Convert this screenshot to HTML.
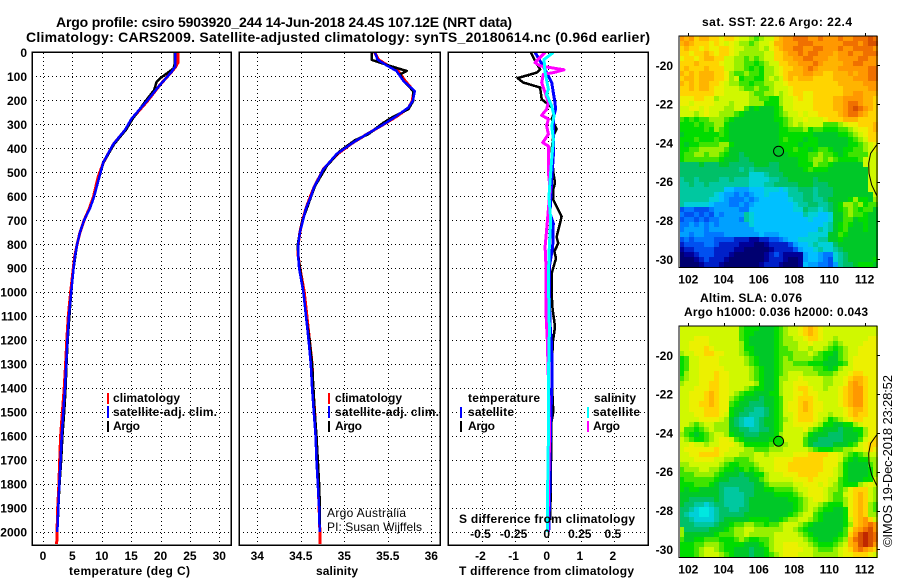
<!DOCTYPE html>
<html>
<head>
<meta charset="utf-8">
<title>Argo profile</title>
<style>
html,body{margin:0;padding:0;background:#fff}
svg{display:block}
text{font-family:"Liberation Sans",sans-serif;font-size:12px;font-weight:bold;fill:#000}
.title{font-size:14px}
.reg{font-weight:normal}
</style>
</head>
<body>
<svg id="chart" xmlns="http://www.w3.org/2000/svg" width="900" height="580" viewBox="0 0 900 580">
<g id="maps"></g>
<g id="panels"></g>
<g id="labels"></g>

<text class="title" x="56" y="27" textLength="456">Argo profile: csiro 5903920_244 14-Jun-2018 24.4S 107.12E (NRT data)</text>
<text class="title" x="26" y="42" textLength="624">Climatology: CARS2009. Satellite-adjusted climatology: synTS_20180614.nc (0.96d earlier)</text>

<text x="69" y="575" textLength="121">temperature (deg C)</text>
<text x="316" y="575" textLength="42">salinity</text>
<text x="459" y="575" textLength="175">T difference from climatology</text>
<text x="459" y="523" textLength="176">S difference from climatology</text>

<g>
<rect x="107" y="393" width="2" height="11" fill="#ff0000"/>
<rect x="107" y="406" width="2" height="12" fill="#0000ff"/>
<rect x="107" y="421" width="2" height="11" fill="#000"/>
<text x="113" y="402" textLength="67">climatology</text>
<text x="113" y="416" textLength="104">satellite-adj. clim.</text>
<text x="113" y="430" textLength="27">Argo</text>
</g>
<g>
<rect x="328" y="393" width="2" height="11" fill="#ff0000"/>
<rect x="328" y="406" width="2" height="12" fill="#0000ff"/>
<rect x="328" y="421" width="2" height="11" fill="#000"/>
<text x="335" y="402" textLength="67">climatology</text>
<text x="335" y="416" textLength="104">satellite-adj. clim.</text>
<text x="335" y="430" textLength="27">Argo</text>
</g>
<g>
<text x="468" y="402" textLength="72">temperature</text>
<rect x="460" y="407" width="2" height="11" fill="#0000ff"/>
<text x="468" y="416" textLength="46">satellite</text>
<rect x="460" y="421" width="2" height="11" fill="#000"/>
<text x="468" y="430" textLength="27">Argo</text>
<text x="594" y="402" textLength="42">salinity</text>
<rect x="587" y="407" width="2" height="11" fill="#00ffff"/>
<text x="593" y="416" textLength="47">satellite</text>
<rect x="587" y="421" width="2" height="11" fill="#ff00ff"/>
<text x="593" y="430" textLength="27">Argo</text>
</g>

<text class="reg" x="327" y="517" textLength="79">Argo Australia</text>
<text class="reg" x="327" y="531" textLength="95">PI: Susan Wijffels</text>

<text x="702" y="26" textLength="150">sat. SST: 22.6 Argo: 22.4</text>
<text x="700" y="302" textLength="102">Altim. SLA: 0.076</text>
<text x="684" y="316" textLength="184">Argo h1000: 0.036 h2000: 0.043</text>
<text class="reg" transform="translate(892,547) rotate(-90)" x="0" y="0" textLength="172" style="font-size:13px">©IMOS 19-Dec-2018 23:28:52</text>
</svg>

<script>
// ---------- axis ticks ----------
const depthTicks = [0,100,200,300,400,500,600,700,800,900,1000,1100,1200,1300,1400,1500,1600,1700,1800,1900,2000];
const tempTicks = [0,5,10,15,20,25,30];
const salinityTicks = [34,34.5,35,35.5,36];
const tDiffTicks = [-2,-1,0,1,2];
const sDiffTicks = [-0.5,-0.25,0,0.25,0.5];
const sDiffTickLabels = ["-0.5","-0.25","0","0.25","0.5"];
const lonTicks = [102,104,106,108,110,112];
const latTicks = [-20,-22,-24,-26,-28,-30];

// ---------- temperature profile ----------
const climTempDepth = [0,40,59,80,135,205,275,323,382,458,518,601,650,700,750,800,850,900,1000,1100,1200,1300,1400,1500,1600,1700,1800,1900,2000,2050];
const climTemp = [23,23,22.6,21.9,19.9,17.7,15.2,14.0,12.0,10.3,9.4,8.6,7.9,7.0,6.3,5.8,5.4,5.15,4.7,4.3,4.05,3.85,3.6,3.3,3.0,2.85,2.7,2.5,2.38,2.33];
const argoTempDepth = [0,50,67,108,122,157,198,275,323,382,458,518,601,650,700,750,800,850,900,1000,1100,1200,1300,1400,1500,1600,1700,1800,1900,1980];
const argoTemp = [22.4,22.4,22.18,19.9,19.35,18.9,17.6,15.3,14.1,12.1,10.3,9.6,8.7,8.0,7.0,6.3,5.8,5.5,5.2,4.8,4.5,4.2,4.0,3.85,3.6,3.3,3.1,2.8,2.6,2.5];
const satTempDepth = [0,40,59,80,135,205,275,323,382,458,518,601,650,700,750,800,850,900,1000,1100,1200,1300,1400,1500,1600,1700,1800,1900,2000];
const satTemp = [22.5,22.5,22.5,21.9,19.9,17.6,15.1,13.95,11.97,10.26,9.6,8.7,8.0,7.0,6.3,5.8,5.45,5.2,4.8,4.4,4.15,3.95,3.75,3.46,3.18,3.0,2.78,2.6,2.44];

// ---------- salinity profile ----------
const climSalDepth = [0,29,54,77,119,161,202,230,265,300,341,376,424,487,564,600,650,700,750,800,850,900,1000,1100,1200,1300,1400,1500,1600,1700,1800,1900,2000,2050];
const climSal = [35.35,35.39,35.5,35.62,35.7,35.8,35.78,35.74,35.61,35.45,35.26,35.1,34.92,34.76,34.65,34.61,34.56,34.52,34.49,34.47,34.47,34.49,34.54,34.57,34.6,34.63,34.64,34.66,34.675,34.685,34.7,34.71,34.72,34.72];
const argoSalDepth = [0,31,42,56,77,91,119,161,202,237,268,293,341,366,411,473,557,600,650,700,750,800,850,900,1000,1100,1200,1300,1400,1500,1600,1700,1800,1900,1990];
const argoSal = [35.315,35.315,35.41,35.525,35.717,35.64,35.68,35.793,35.793,35.736,35.563,35.45,35.276,35.123,34.95,34.8,34.663,34.62,34.57,34.52,34.49,34.465,34.47,34.49,34.53,34.56,34.6,34.63,34.645,34.66,34.68,34.695,34.71,34.72,34.72];
const satSalDepth = [0,29,54,77,119,161,202,230,265,300,341,376,424,487,564,600,650,700,750,800,850,900,1000,1100,1200,1300,1400,1500,1600,1700,1800,1900,2000];
const satSal = [35.353,35.38,35.487,35.6,35.68,35.81,35.786,35.736,35.6,35.45,35.257,35.1,34.91,34.76,34.65,34.617,34.56,34.525,34.49,34.47,34.47,34.48,34.53,34.56,34.59,34.615,34.63,34.65,34.67,34.68,34.695,34.71,34.717];

// ---------- difference from climatology ----------
const tArgoDiffDepth = [0,35,70,84,107,125,146,195,223,243,278,320,348,404,501,543,571,615,650,685,741,770,796,830,859,921,1005,1060,1144,1213,1366,1500,1550,1700,1950];
const tArgoDiff = [-0.51,-0.38,-0.23,-0.33,-0.91,-0.74,-0.23,-0.18,0.07,0.22,0.12,0.27,0.17,0.12,0.17,0.22,0.17,0.17,0.3,0.42,0.32,0.27,0.32,0.2,0.25,0.12,0.12,0.14,0.22,0.15,0.12,0.17,0.1,0.1,0.08];
const tSatDiffDepth = [0,35,84,125,167,209,237,272,334,432,530,671,713,810,893,1005,1130,1227,1366,1600,1800,2000];
const tSatDiff = [-0.38,-0.23,-0.03,0.12,0.17,0.22,0.24,0.17,0.17,0.17,0.12,0.07,0.17,0.15,0.05,0.05,0.07,0.12,0.13,0.08,0.07,0.03];
const sArgoDiffDepth = [0,42,56,72,84,91,125,167,209,237,262,278,306,341,376,390,501,571,741,810,893,1088,1199,1366,1600,1800,2000];
const sArgoDiff = [-0.02,-0.096,-0.058,0.123,0.043,-0.033,-0.045,-0.02,0.005,-0.008,-0.045,0.005,-0.008,0.005,-0.038,0.005,0.005,0.018,-0.008,-0.02,-0.013,-0.013,-0.003,0.005,0.015,0.005,0.003];
const sSatDiffDepth = [0,29,84,153,174,223,265,306,362,445,532,601,699,838,949,1157,1366,1600,1800,2000];
const sSatDiff = [0.043,-0.028,-0.02,0.005,-0.008,0.03,0.048,0.03,0.043,0.03,0.018,0.01,0.023,0.01,0.005,0.013,0.005,0.005,0,0];

// ---------- maps (each letter is a colour level, see levelColours) ----------
const levelKeys = "abcdefghijklmnopqrstuvw";
const levelColours = ["#000070","#000098","#0020c8","#0050f0","#0078ff","#00a0ff","#00c0ff","#00d0d8","#00c8a0","#00c068","#00c828","#00dc00","#40e400","#98f000","#d0f800","#ecf000","#ffd400","#ffb400","#ff9800","#f07000","#d85000","#c02800","#00e8e0"];
const sstRows = [
"srsqrrqqpq qpoonmnooq rsstttssts sstsstttut",
"rsrqqqpqpo ponnmnoopr rssstttsss ssstttstuu",
"qrqqpqppqq poonnnonpq rssttsstts sstsstttts",
"qqpqqrqpqq ponnnnnooq qrsststtss srsstssttt",
"pqqpqrrqqo onnmnmnooq qrrssttsss rrssssttss",
"qqqrqqqqpo onnmmlmnoo qqrrssstsr rrrssttsss",
"qrqqqrqqqo onnmlmlnno pqqrrstsrr rrsssssstt",
"rqrqrrrqqp nmmnmmlnno pqrrrssrrq qrrrsrsstt",
"qrrqrrrqqp nolmmllnon oqrqrrrqqq qrrrrssstt",
"rqrqrrqqpo nnmmlmmnno opqqqqqqqq qqrrrrrsss",
"qqrqrrqppo oonmmnmmno oopqqqqqqq qqqrrrrrss",
"qqqqqqqppo oooonmmnno nopqqppqqq qqqrrssrrr",
"pppqqppnoo oooonnmmll noopqppqqq qrrssssrrq",
"ppoppppooo nooonnnlll nooppppqqq qrrsttsrrq",
"ooppopooon noomklkkkl mooppppqqq qrrstutsrq",
"ooonopoonn nmlkkkkkkl mnoopoppqq qqrsttsrqq",
"mlmlmmnnnm lkkkkkkkkl lmnoopooop qqqrrrqqqq",
"lllmlmmnnl kkkkkkkkkk lmnonoooom mmnoppqqqr",
"lllllmlnml kkkkkkkkkk llmmmnlmml llmmnoppqr",
"klllllllml kkkkkkkkkk lllllllkkk kkllmnopqq",
"lllmlllmll kkkkkkkkkk lmlllkllkk kkkklmnoqq",
"lkllmmmmnn lkkkkkkkkk llllklllkk kkkkllmnop",
"llmmnnnnnm kkkkkkkkkk kllmllklmm lkkllmmnop",
"lmmnnmnnml kkjkkkkkkk kkllllmmnm mlklmmmmoo",
"lmmmmmmmlk kkjjkkkkkk kkkkllmnnm nmllllmooo",
"jjjjkjjjkk jjjjjkkkjj kkkklllnmm lkkkkkkooo",
"jjjjjjjjjj jjijijjjjj kkkkklmlll kkkkkkkkoo",
"jjjjjjjjjj jjjjhhhijj jkkkkkkkkk kkkkkkkkoo",
"ijjijjjjii jiiihhhhii jjkkkkkjkk kkkkkkkkoo",
"iijiijiiii iiiihhhiij jjjjkkkjjj kkkkkkkkoo",
"iiiiiiiiig gfffggghhh ghiijjjijj jkkkkkkkoo",
"iiiiiiihgf fefefgghgg ggiiijjijj jkkkkkkkko",
"iiiiiihhgf eeefefgggg gghiijjiij kkkklnllkn",
"ihhhhhgfff eefefggggg ggghiijjii jklnnmnlmm",
"deedddefff ffeegggggg ggghhjiihi jklmnmlmmk",
"eddededfef fffihggggg gggggihhgg hkkmnmmlkk",
"deededeeff ffeihggggg gggggghggg hkkmmkllkk",
"eefefefeff ffffhggggg gggggggggh iklmlkklkk",
"effffeffff fffffggggg ggggggggih iklmkkklkk",
"ffeffeeeef ffffffgfff gggggghhhh kkmlkkkkkk",
"dedeeeeddd dcccbbccdd efgghhhhii kklkkkkkkk",
"cddddeedcc ccbbbaabcc ccdfgghihh hjkkkkkkkk",
"bccddddccc cbbaaaaabc cccdfgghih hijkkkkkkk",
"abbcdddccc baaaaaabcd cbbbbfggfe ehijkkkkkk",
"aaabcdcccb aaaaaaabcc cbaabfggfe dhijkkkkkl",
"aaaabcccba aaaaaabccc baaabgffee dfijjklllk"
];
const slaRows = [
"oooooooooo oomlllkkkl mnoopqrqpo oooooooooo",
"oooooooooo oomllkkkkl mnoopqrqpo oooooooooo",
"ooopppoooo oomlkkkkkl mnnoopqqpo onoooooopp",
"ooppppoooo oonlkkkkkl mnnnoopooo nmnooooppp",
"oopppqpooo oonllkkkkl mmnnoonoon mlmnoopppp",
"nooppqqppo oonmlkkkkl mmmnnnonml lkmnoopppp",
"lmooppppoo ooonmlkkkl mnmnnnnmml kkmnoppppp",
"lmooppppoo ooonmlkkkl mnnmmmlllk kklmoppppp",
"lmoopppppo oooonmlkkl mnnnnnnmml klnooppppp",
"lnoopppqpp oooonmlkkl mnooonnnmm mnoopqqppp",
"mnoopppqpp oooonmlkkl nnoopoooon noopqrrqpp",
"noooppqqpp ooooonlkkl noopppooon nooprsrqpp",
"ooopppqqpp ooonmllkkl noopqqpoon oopqrssqpp",
"oopppqrqpp onmllkkkll nooppqppoo oopqrssqpp",
"oopppqrqpp nmlkkkjkkl moopqqqpoo oopqrssqpp",
"ooppqqrqpp mlkkjjjkkl moppqrqppo oopqrssqpp",
"oopppqqqpp lkkjjiijkl moppqrqppo ooopqrrqpp",
"oooppqqqpo lkjjiiijkl moopqqqpoo noopqrqqpp",
"ooooppppon kjihhijkkl mnopqqqpon lmnopqqppp",
"oonmnoonnn kjihhijkkl moopppponl lkkllnoppp",
"ommlmnonnn kkjjiijjkl moooopnmlk kkjkkllnpp",
"nmlklmnoon lkkjjjkkkl noooonlkkk jjjkkklnpp",
"onmllmnopp omlkkkkklm noooomkkjj jjjkkkmopq",
"oopoonoopp ponlllllmn nnooomkjjj jkkklmopqq",
"oppppppqpp ooonnmmmnn nooooonmll lmmnnoopqp",
"ooppqqqqpo oonnnoonoo ooopppqqqq pponmlmnoo",
"oooppppoon nmmmnoooop pppqqqqqqp ppomlkllnn",
"nnoooooonm llmmmnooop ppqqqqqqqp ppnlkkkkmn",
"mnnnoonnml lklmlmnoop ppqqqqqqqp ponlkkkkln",
"mmmnnnnmlk kkjkkllnoo opppqqqqpp ponlkkkkln",
"lmmmmmmlkk jjjjkkmnoo ooopppqppp oomlkkkllo",
"lllmmmlkjj jjjjjkkmnn nnnoopppop onmlllnopo",
"lkllkkkkji iijjjkkllm mmmnoopppo nnmnpqqqon",
"kkkkkkkkji iiijjkkkkl lllmnopppo nmmopqrqon",
"kkjjjjjkji iiijkkkkkk kkllmnoppo nmmnpqrqon",
"kjjiihijji iiijkkkkkk kkklmnoonm lllnpqrqnm",
"jjihwwhijj iijjkkkkkk kkklmnonml lkklpqrqnm",
"jihhwwhijj jjjkkkkkkk kklmnoomlk kkklpqrqnn",
"jjihhhhijk kkkkllllkk lmnnoonmlk kkkloqrsqo",
"jjjiiiijkk lmmnnmmlmm nooonmlkkk kkklnqrsts",
"njjjjjkkkl mnnoonnnnn noonmlkkkk kkkmprstus",
"nkkkkkklmm mnnonnnnno oooonmlkkk kklmqsuvut",
"mkkllmmmll lmnmllmmno ooooonmlkk klmnrtuvut",
"lllmmnnnml lllkkklmno opppoonmll lmnorsuvus",
"lllmnoonml lkkkjkklno oppppoonmm mnopqstsrq",
"lllmnooonm lkkkjkklmn opppooonnn nnoppqqqpo"
];
const coastLon = [112.72,112.34,112.23,112.25,112.4,112.72];
const coastLat = [-24.06,-24.54,-25.05,-25.57,-26.17,-26.77];
const floatLon = 107.12;
const floatLat = -24.43;

// ---------- scales ----------
const NS = "http://www.w3.org/2000/svg";
const yDepth = d => 52.5 + d * 0.2397;
const xTemp = v => 43 + v * 5.877;
const xSal = v => 257.3 + (v - 34) * 87;
const xTDiff = v => 547.7 + v * 33.1;
const xSDiff = v => 547.7 + v * 132.4;
const mapLeft = 679.5, mapW = 198, mapH = 231.5;
const lonX = lon => 688.3 + (lon - 102) * 17.63;
const latY = (lat, top) => top + 29.3 + (-20 - lat) * 19.4;

function make(tag, parent, attrs) {
  const el = document.createElementNS(NS, tag);
  for (const k in attrs) el.setAttribute(k, attrs[k]);
  parent.appendChild(el);
  return el;
}
const panelsG = document.getElementById("panels");
const labelsG = document.getElementById("labels");
const mapsG = document.getElementById("maps");

function addLabel(txt, x, y, anchor) {
  const t = make("text", labelsG, {x: x, y: y, "text-anchor": anchor});
  t.textContent = txt;
  
  
}

function drawPanel(name, left, right, xTicks, xFn, series) {
  const g = make("g", panelsG, {});
  
  
  depthTicks.slice(1).forEach(d => {
    const l = make("line", g, {x1: left, x2: right, y1: Math.round(yDepth(d)) + .5, y2: Math.round(yDepth(d)) + .5, stroke: "#000", "stroke-width": 1, "stroke-dasharray": "1 3", "shape-rendering": "crispEdges"});
    
    
  });
  xTicks.forEach(v => {
    const X = Math.round(xFn(v)) + .5;
    const l = make("line", g, {x1: X, x2: X, y1: 53, y2: 545, stroke: "#000", "stroke-width": 1, "stroke-dasharray": "1 3", "shape-rendering": "crispEdges"});
    
    
  });
  series.forEach(s => {
    const pts = s.vals.map((v, i) => s.x(v).toFixed(1) + "," + yDepth(s.depth[i]).toFixed(1)).join(" ");
    const p = make("polyline", g, {points: pts, fill: "none", stroke: s.color, "stroke-width": s.w, "stroke-linejoin": "round", "shape-rendering": "crispEdges"});
    
    
  });
  const f = make("rect", g, {x: left, y: 52, width: right - left, height: 493, fill: "none", stroke: "#000", "stroke-width": 1.5, "shape-rendering": "crispEdges"});
  
  
}

drawPanel("temperature-panel", 32, 231, tempTicks, xTemp, [
  {name: "climatology-temperature-line", depth: climTempDepth, vals: climTemp, x: xTemp, color: "#ff0000", w: 3},
  {name: "argo-temperature-line", depth: argoTempDepth, vals: argoTemp, x: xTemp, color: "#000", w: 2.5},
  {name: "satellite-temperature-line", depth: satTempDepth, vals: satTemp, x: xTemp, color: "#0000ff", w: 2.5}
]);
drawPanel("salinity-panel", 239, 440, salinityTicks, xSal, [
  {name: "climatology-salinity-line", depth: climSalDepth, vals: climSal, x: xSal, color: "#ff0000", w: 3},
  {name: "argo-salinity-line", depth: argoSalDepth, vals: argoSal, x: xSal, color: "#000", w: 2.5},
  {name: "satellite-salinity-line", depth: satSalDepth, vals: satSal, x: xSal, color: "#0000ff", w: 2.5}
]);
drawPanel("difference-panel", 448, 648, tDiffTicks, xTDiff, [
  {name: "t-argo-difference-line", depth: tArgoDiffDepth, vals: tArgoDiff, x: xTDiff, color: "#000", w: 2.5},
  {name: "t-satellite-difference-line", depth: tSatDiffDepth, vals: tSatDiff, x: xTDiff, color: "#0000ff", w: 3},
  {name: "s-argo-difference-line", depth: sArgoDiffDepth, vals: sArgoDiff, x: xSDiff, color: "#ff00ff", w: 3},
  {name: "s-satellite-difference-line", depth: sSatDiffDepth, vals: sSatDiff, x: xSDiff, color: "#00ffff", w: 3}
]);

depthTicks.forEach(d => addLabel(String(d), 27, yDepth(d) + 4.5, "end"));
tempTicks.forEach(v => addLabel(String(v), xTemp(v), 560, "middle"));
salinityTicks.forEach(v => addLabel(String(v), xSal(v), 560, "middle"));
tDiffTicks.forEach(v => addLabel(String(v), xTDiff(v) - 1, 560, "middle"));
sDiffTicks.forEach((v, i) => addLabel(sDiffTickLabels[i], xSDiff(v) - 1, 538, "middle"));

function drawMap(name, rows, top, markerFill) {
  const g = make("g", mapsG, {});
  
  
  const clean = rows.map(r => r.replace(/ /g, ""));
  const nr = clean.length;
  clean.forEach((row, ri) => {
    const nc = row.length;
    const y0 = Math.round(top + ri * mapH / nr);
    const y1 = Math.round(top + (ri + 1) * mapH / nr);
    for (let c = 0; c < nc; c++) {
      const x0 = Math.round(mapLeft + c * mapW / nc);
      const x1 = Math.round(mapLeft + (c + 1) * mapW / nc);
      const cell = make("rect", g, {x: x0, y: y0, width: x1 - x0, height: y1 - y0, fill: levelColours[levelKeys.indexOf(row[c])]});
      
      
    }
  });
  const coast = make("polyline", g, {points: coastLon.map((lo, i) => lonX(lo).toFixed(1) + "," + latY(coastLat[i], top).toFixed(1)).join(" "), fill: "none", stroke: "#000", "stroke-width": 1});
  
  
  const m = make("circle", g, {cx: lonX(floatLon), cy: latY(floatLat, top), r: 5, fill: markerFill, stroke: "#000", "stroke-width": 1});
  
  
  const f = make("rect", g, {x: 679, y: top, width: 198, height: mapH, fill: "none", stroke: "#000", "stroke-width": 1, "shape-rendering": "crispEdges"});
  
  
  lonTicks.forEach(lo => {
    const X = Math.round(lonX(lo)) + .5;
    const t = make("line", g, {x1: X, x2: X, y1: top - 3, y2: top, stroke: "#000", "shape-rendering": "crispEdges"});
    
    
    addLabel(String(lo), lonX(lo), top + 247.5, "middle");
  });
  latTicks.forEach(la => {
    const Y = Math.round(latY(la, top)) + .5;
    const t = make("line", g, {x1: 877, x2: 880, y1: Y, y2: Y, stroke: "#000", "shape-rendering": "crispEdges"});
    
    
    addLabel(String(la), 673, latY(la, top) + 4.5, "end");
  });
}
drawMap("sst-map", sstRows, 36, "none");
drawMap("sla-map", slaRows, 326, "#00d800");
</script>
</body>
</html>
